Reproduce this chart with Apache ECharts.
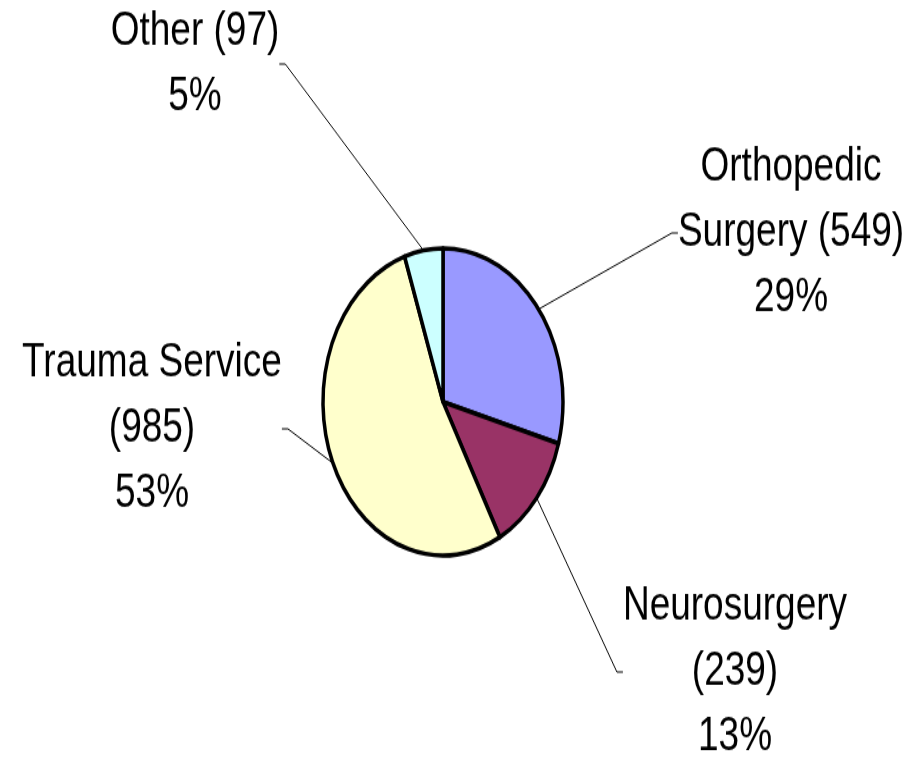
<!DOCTYPE html>
<html>
<head>
    <meta charset="utf-8">
    <script src="https://cdn.jsdelivr.net/npm/echarts@6/dist/echarts.min.js"></script>
    <style>
        html, body { margin: 0; padding: 0; background: #fff; width: 915px; height: 758px; }
        /* the original pie is an upright ellipse with tall text, so stretch the whole chart vertically */
        #main { width: 915px; height: 592px; transform: scaleY(1.28); transform-origin: 0 0; }
    </style>
</head>
<body>
<div id="main"></div>
<script type="text/javascript">
    // data
    const services = ['Orthopedic Surgery', 'Neurosurgery', 'Trauma Service', 'Other'];
    const cases = [549, 239, 985, 97];
    // how each label's name is wrapped in the original
    const labelHeads = ['Orthopedic\nSurgery ', 'Neurosurgery\n', 'Trauma Service\n', 'Other '];
    const colors = ['#9999FF', '#993366', '#FFFFCC', '#CCFFFF'];

    // label centres (unscaled chart coordinates)
    const labelPos = [[791, 182], [735, 525], [152, 335], [195, 50]];

    const myChart = echarts.init(document.getElementById('main'));

    const option = {
        animation: false,
        series: [{
            type: 'pie',
            center: [443, 314],
            radius: 120,
            startAngle: 90,
            clockwise: true,
            percentPrecision: 0,
            data: services.map((name, i) => ({
                name: name,
                value: cases[i],
                itemStyle: { color: colors[i] }
            })),
            itemStyle: { borderColor: '#000', borderWidth: 3.5 },
            label: {
                show: true,
                position: 'outside',
                fontFamily: 'Liberation Sans, Arial, sans-serif',
                fontSize: 37,
                lineHeight: 51,
                color: '#000',
                align: 'center',
                formatter: p => labelHeads[p.dataIndex] + '(' + p.value + ')\n' + p.percent + '%'
            },
            labelLine: {
                show: true,
                length: 20,
                length2: 6,
                lineStyle: { color: '#000', width: 1 }
            },
            labelLayout: function (params) {
                const pos = labelPos[params.dataIndex];
                return { x: pos[0], y: pos[1], align: 'center', verticalAlign: 'middle' };
            },
            emphasis: { disabled: true }
        }]
    };

    myChart.setOption(option);
</script>
</body>
</html>
